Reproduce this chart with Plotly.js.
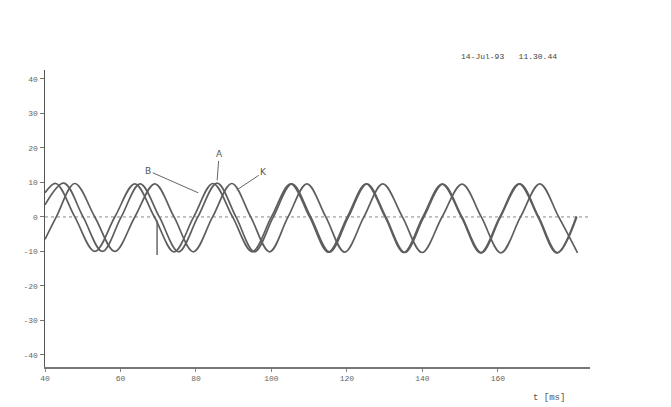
<!DOCTYPE html>
<html><head><meta charset="utf-8">
<script src="https://cdn.plot.ly/plotly-3.0.1.min.js"></script>
<style>html,body{margin:0;padding:0;background:#fff}#chart{width:671px;height:407px}</style>
</head><body><div id="chart"></div>
<script>
// Curve B (leading)
const tB = [40, 42.9, 47.9, 53.2, 58.5, 63.8, 69.0, 74.2, 79.4, 84.5, 89.7, 94.9, 100.0, 105.1, 110.1, 115.1, 120.1, 125.1, 130.1, 135.1, 140.1, 145.2, 150.3, 155.4, 160.5, 165.6, 170.6, 175.6, 180.8];
const vB = [7.0, 9.7, 0, -10.0, 0, 9.6, 0, -10.1, 0, 9.7, 0, -10.1, 0, 9.6, 0, -10.2, 0, 9.6, 0, -10.3, 0, 9.5, 0, -10.4, 0, 9.6, 0, -10.4, 0.2];
// Curve A
const tA = [40, 45.0, 50.1, 55.2, 60.2, 65.2, 70.3, 75.4, 80.5, 85.6, 90.6, 95.5, 100.5, 105.4, 110.4, 115.4, 120.4, 125.3, 130.3, 135.3, 140.4, 145.4, 150.5, 155.6, 160.7, 165.8, 170.8, 175.8, 180.9];
const vA = [3.5, 9.8, 0, -10.0, 0, 9.6, 0, -10.1, 0, 9.8, 0, -10.1, 0, 9.6, 0, -10.2, 0, 9.6, 0, -10.3, 0, 9.5, 0, -10.4, 0, 9.6, 0, -10.4, 0];
// Curve K (lagging)
const tK = [40, 43.0, 47.9, 53.2, 58.5, 63.8, 69.1, 74.2, 79.3, 84.4, 89.5, 94.5, 99.5, 104.4, 109.4, 114.4, 119.4, 124.5, 129.5, 134.7, 139.9, 145.2, 150.5, 155.6, 160.8, 166.0, 171.1, 176.1, 181.1];
const vK = [-6.5, 0, 9.7, 0, -10.0, 0, 9.6, 0, -10.1, 0, 9.7, 0, -10.1, 0, 9.6, 0, -10.2, 0, 9.6, 0, -10.3, 0, 9.5, 0, -10.4, 0, 9.6, 0, -10.4];
// short vertical glitch
const tG = [69.7, 69.7];
const vG = [-1, -11];

const xTicks = [40, 60, 80, 100, 120, 140, 160];
const xTickText = ['40', '60', '80', '100', '120', '140', '160'];
const yTicks = [40, 30, 20, 10, 0, -10, -20, -30, -40];
const yTickText = ['40', '30', '20', '10', '0', '-10', '-20', '-30', '-40'];

const lineStyle = {color: '#5e5e5e', width: 1.7, shape: 'spline', smoothing: 1};
const mk = (x, y, name) => ({x, y, name, type: 'scatter', mode: 'lines', line: lineStyle, hoverinfo: 'skip'});

const data = [
  mk(tB, vB, 'B'),
  mk(tA, vA, 'A'),
  mk(tK, vK, 'K'),
  {x: tG, y: vG, type: 'scatter', mode: 'lines', line: {color: '#5e5e5e', width: 1.4}, hoverinfo: 'skip'}
];

const tickFont = {family: 'Liberation Mono, DejaVu Sans Mono, monospace', size: 8, color: '#666'};

const layout = {
  width: 671, height: 407,
  margin: {l: 45, r: 81, t: 70, b: 40},
  paper_bgcolor: '#ffffff', plot_bgcolor: '#ffffff',
  showlegend: false,
  xaxis: {
    range: [40, 184.4], showgrid: false, zeroline: false,
    showline: true, linecolor: '#777', linewidth: 1.5,
    tickmode: 'array', tickvals: xTicks, ticktext: xTickText,
    ticks: 'outside', ticklen: 3, tickcolor: '#888', tickfont: tickFont
  },
  yaxis: {
    range: [-43.5, 42.6], showgrid: false, zeroline: false,
    showline: true, linecolor: '#555', linewidth: 1.5,
    tickmode: 'array', tickvals: yTicks, ticktext: yTickText,
    ticks: 'outside', ticklen: 4, tickcolor: '#777', tickfont: tickFont
  },
  shapes: [
    {type: 'line', xref: 'paper', x0: 0, x1: 1, yref: 'y', y0: 0, y1: 0,
     line: {color: '#8a8a8a', width: 1, dash: 'dot'}, layer: 'below'}
  ],
  annotations: [
    {x: 85.6, y: 10.6, xref: 'x', yref: 'y', text: 'A', showarrow: true, arrowhead: 0,
     arrowwidth: 1, arrowcolor: '#666', ax: 2, ay: -26,
     font: {family: 'DejaVu Sans, sans-serif', size: 9, color: '#555'}},
    {x: 80.6, y: 7.0, xref: 'x', yref: 'y', text: 'B', showarrow: true, arrowhead: 0,
     arrowwidth: 1, arrowcolor: '#666', ax: -50, ay: -22,
     font: {family: 'DejaVu Sans, sans-serif', size: 9, color: '#555'}},
    {x: 90.8, y: 7.8, xref: 'x', yref: 'y', text: 'K', showarrow: true, arrowhead: 0,
     arrowwidth: 1, arrowcolor: '#666', ax: 27, ay: -18,
     font: {family: 'DejaVu Sans, sans-serif', size: 9, color: '#555'}},
    {xref: 'paper', yref: 'paper', x: 0.851, y: 1.044, text: '14-Jul-93   11.30.44',
     showarrow: false, xanchor: 'center', yanchor: 'middle',
     font: {family: 'Liberation Mono, DejaVu Sans Mono, monospace', size: 8, color: '#444'}},
    {xref: 'paper', yref: 'paper', x: 0.925, y: -0.105, text: 't [ms]',
     showarrow: false, xanchor: 'center', yanchor: 'middle',
     font: {family: 'Liberation Mono, DejaVu Sans Mono, monospace', size: 9, color: '#555'}}
  ]
};

Plotly.newPlot('chart', data, layout, {displayModeBar: false, staticPlot: true});
</script>
</body></html>
